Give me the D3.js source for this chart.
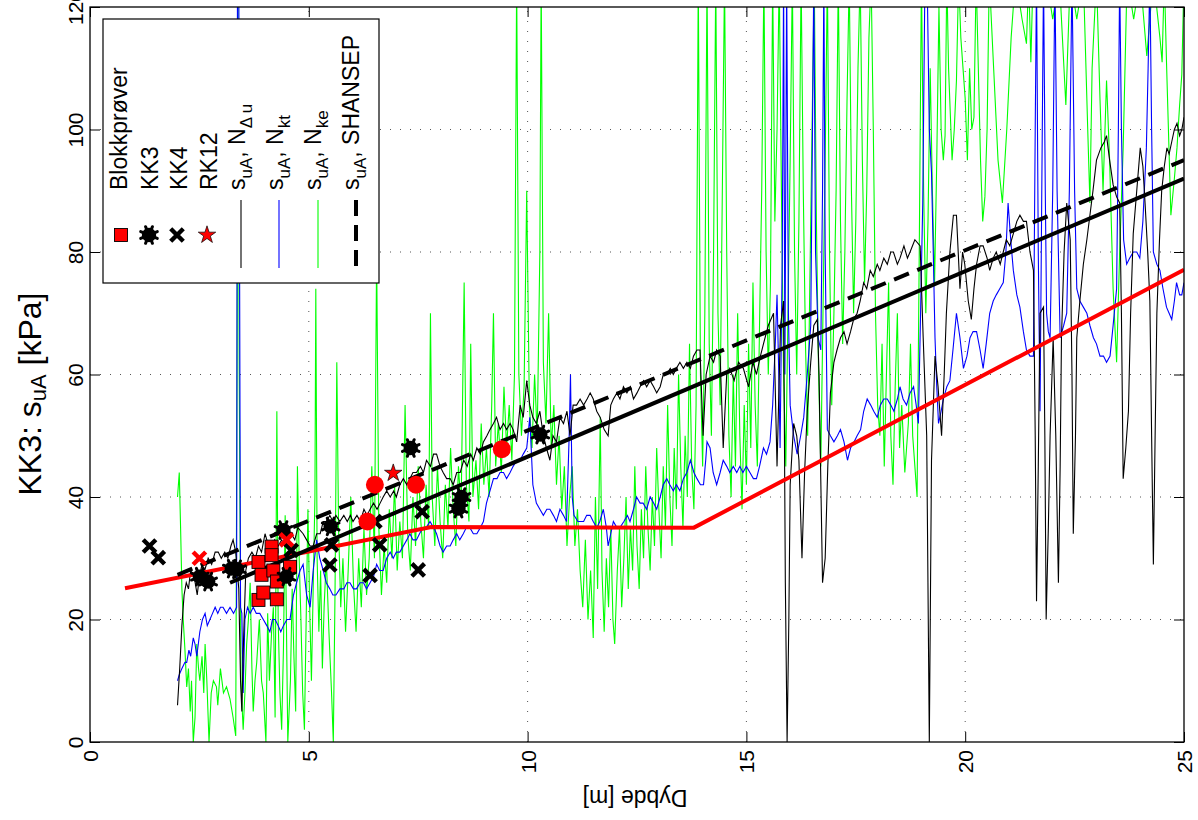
<!DOCTYPE html>
<html><head><meta charset="utf-8">
<script src="https://cdn.jsdelivr.net/npm/d3@7"></script>
<style>
body{margin:0;background:#fff;}
svg{display:block;}
text{font-family:"Liberation Sans",Arial,Helvetica,sans-serif;fill:#000;}
</style>
</head><body>
<svg id="chart" width="1198" height="820"></svg>
<script>
// ---------- data ----------
const xTicks = [0, 5, 10, 15, 20, 25];
const yTicks = [0, 20, 40, 60, 80, 100, 120];

// markers [depth m, suA kPa]
const blokkprover = [[3.85,23.2],[3.96,24.4],[4.27,23.3],[3.85,29.4],[3.92,27.3],[4.15,31.9],[4.15,30.5],[4.19,28.0],[4.27,26.2],[4.57,28.6]];
const kk3 = [[2.51,27.0],[2.70,26.2],[3.24,28.3],[3.36,28.2],[4.42,34.6],[4.49,27.0],[5.50,35.2],[7.33,48.0],[8.49,40.0],[8.42,38.1],[10.29,50.2]];
const kk4 = [[1.36,32.0],[1.56,30.1],[4.60,31.3],[5.48,28.9],[5.52,32.2],[6.51,36.0],[6.62,32.2],[6.40,27.2],[7.59,37.6],[7.50,28.1]];
const rk12 = [[6.93,43.9]];
const redCircles = [[6.34,36.0],[6.51,42.0],[7.45,42.0],[9.41,47.8]];
const redCrosses = [[2.50,30.0],[4.49,33.0]];

// design lines
const redLine = [[0.8,25.1],[7.8,35.1],[13.8,35.0],[25,77.1]];
const solidLine = [[3.2,26.0],[25,92.0]];
const shansepLine = [[2.0,27.3],[25,95.0]];

// CPT-derived profiles
const suNdu = [[2.00,6],[2.05,12],[2.10,19],[2.15,24],[2.20,26],[2.25,25],[2.30,28],[2.38,27],[2.45,24],[2.50,27],[2.56,29],[2.62,28],[2.70,30],[2.78,29],[2.86,31],[2.93,31],[3.00,30],[3.08,31],[3.15,30],[3.22,32],[3.27,33],[3.33,31],[3.40,25],[3.44,10],[3.47,5],[3.51,17],[3.56,28],[3.62,30],[3.70,31],[3.78,30],[3.85,32],[3.92,31],[4.00,34],[4.08,32],[4.15,31],[4.22,33],[4.30,32],[4.38,33],[4.45,32],[4.52,33],[4.60,34],[4.68,33],[4.75,35],[4.87,34],[4.95,33],[5.03,32],[5.10,32],[5.18,34],[5.26,34],[5.33,36],[5.40,36],[5.48,37],[5.55,36],[5.62,37],[5.71,36],[5.80,37],[5.88,36],[5.95,37],[6.01,36],[6.10,37],[6.18,36],[6.26,38],[6.33,37],[6.40,38],[6.48,39],[6.56,38],[6.63,39],[6.70,40],[6.78,41],[6.86,40],[6.94,41],[7.00,40],[7.08,42],[7.16,43],[7.24,42],[7.31,43],[7.38,44],[7.46,44],[7.55,45],[7.62,44],[7.69,46],[7.78,45],[7.85,47],[7.92,47],[8.00,45],[8.07,44],[8.15,43],[8.23,43],[8.30,42],[8.38,44],[8.46,44],[8.54,46],[8.62,45],[8.70,47],[8.76,46],[8.84,48],[8.92,47],[8.99,49],[9.07,50],[9.14,51],[9.22,52],[9.29,53],[9.37,51],[9.45,52],[9.52,51],[9.60,52],[9.67,51],[9.75,49],[9.83,55],[9.90,53],[9.98,59],[10.05,55],[10.12,53],[10.20,52],[10.28,54],[10.36,50],[10.43,48],[10.51,46],[10.58,50],[10.66,49],[10.74,53],[10.82,52],[10.90,54],[10.97,50],[11.04,55],[11.12,55],[11.20,56],[11.28,55],[11.36,56],[11.43,57],[11.50,56],[11.58,54],[11.66,53],[11.75,51],[11.84,50],[11.90,55],[11.96,56],[12.04,57],[12.11,56],[12.19,58],[12.27,57],[12.35,58],[12.42,56],[12.50,57],[12.57,58],[12.65,59],[12.72,58],[12.80,59],[12.88,58],[12.95,57],[13.03,58],[13.10,60],[13.18,60],[13.26,61],[13.33,60],[13.40,61],[13.48,62],[13.56,61],[13.64,62],[13.72,61],[13.79,63],[13.87,64],[13.94,64],[14.01,50],[14.08,60],[14.17,63],[14.25,62],[14.32,64],[14.40,63],[14.47,48],[14.55,60],[14.62,61],[14.72,59],[14.82,62],[14.93,61],[15.05,58],[15.15,62],[15.23,60],[15.32,63],[15.39,65],[15.50,68],[15.62,70],[15.70,45],[15.78,68],[15.85,72],[15.89,26],[15.93,0],[15.97,20],[16.00,42],[16.08,52],[16.15,50],[16.20,46],[16.27,30],[16.33,44],[16.39,54],[16.47,62],[16.54,68],[16.62,69],[16.66,60],[16.69,47],[16.74,26],[16.80,30],[16.86,45],[16.92,57],[17.00,62],[17.07,64],[17.15,66],[17.23,67],[17.30,65],[17.38,67],[17.45,69],[17.53,70],[17.60,72],[17.68,75],[17.75,74],[17.83,77],[17.90,76],[17.99,78],[18.05,77],[18.14,79],[18.22,78],[18.30,80],[18.36,80],[18.45,78],[18.51,79],[18.60,81],[18.68,79],[18.74,80],[18.85,82],[18.97,81],[19.04,66],[19.12,50],[19.18,0],[19.23,46],[19.31,63],[19.38,58],[19.46,50],[19.52,60],[19.57,70],[19.65,80],[19.73,86],[19.80,86],[19.88,74],[19.94,80],[19.99,78],[20.07,72],[20.14,69],[20.20,74],[20.26,78],[20.34,81],[20.41,81],[20.50,79],[20.56,77],[20.64,79],[20.71,80],[20.80,78],[20.87,80],[20.94,82],[21.02,81],[21.10,83],[21.18,85],[21.25,86],[21.33,85],[21.40,85],[21.48,80],[21.56,77],[21.60,50],[21.63,23],[21.67,45],[21.71,70],[21.79,71],[21.82,50],[21.85,20],[21.90,35],[21.94,50],[22.01,66],[22.07,50],[22.13,26],[22.17,45],[22.20,66],[22.26,80],[22.32,88],[22.40,82],[22.44,60],[22.47,34],[22.52,50],[22.55,66],[22.62,72],[22.70,78],[22.78,82],[22.85,86],[22.92,90],[23.00,95],[23.10,97],[23.18,98],[23.23,99],[23.30,95],[23.38,91],[23.46,89],[23.53,88],[23.57,70],[23.61,43],[23.67,48],[23.73,54],[23.78,70],[23.84,83],[23.92,90],[24.00,97],[24.06,94],[24.11,88],[24.17,80],[24.22,72],[24.26,50],[24.30,29],[24.34,50],[24.38,70],[24.44,82],[24.49,90],[24.55,94],[24.61,97],[24.66,96],[24.72,98],[24.78,100],[24.84,101],[24.90,99],[24.95,100],[25.00,102]];

const suNkt = [[2.00,10],[2.04,11],[2.10,12],[2.17,13],[2.21,13],[2.26,15],[2.30,14],[2.36,17],[2.40,16],[2.44,14],[2.51,18],[2.57,20],[2.63,21],[2.68,19],[2.74,20],[2.80,21],[2.86,22],[2.92,21],[2.98,22],[3.04,22],[3.12,21],[3.20,22],[3.28,21],[3.35,22],[3.37,125],[3.40,125],[3.44,22],[3.47,21],[3.50,8],[3.54,20],[3.60,22],[3.66,21],[3.73,22],[3.80,21],[3.88,21],[3.96,20],[4.04,19],[4.11,18],[4.17,20],[4.23,20],[4.30,19],[4.36,18],[4.42,19],[4.50,20],[4.57,20],[4.65,24],[4.72,26],[4.80,28],[4.87,29],[4.95,24],[5.03,22],[5.10,28],[5.18,33],[5.25,30],[5.33,28],[5.40,26],[5.48,25],[5.55,24],[5.62,24],[5.71,25],[5.80,25],[5.87,26],[5.94,26],[6.02,25],[6.09,25],[6.17,26],[6.25,26],[6.32,25],[6.40,26],[6.48,27],[6.55,29],[6.62,28],[6.70,28],[6.78,30],[6.86,31],[6.93,30],[7.00,31],[7.08,31],[7.16,32],[7.24,33],[7.31,34],[7.38,33],[7.46,33],[7.53,34],[7.61,35],[7.68,35],[7.77,36],[7.85,35],[7.92,34],[8.00,32],[8.07,31],[8.15,32],[8.23,32],[8.30,33],[8.38,34],[8.45,33],[8.53,34],[8.60,35],[8.68,35],[8.76,34],[8.84,34],[8.92,35],[8.99,36],[9.06,39],[9.14,41],[9.22,43],[9.30,43],[9.37,44],[9.45,44],[9.52,43],[9.60,44],[9.67,45],[9.75,46],[9.83,46],[9.90,47],[9.98,48],[10.05,53],[10.12,42],[10.20,39],[10.28,38],[10.36,37],[10.44,38],[10.51,38],[10.59,37],[10.66,36],[10.74,38],[10.82,37],[10.89,36],[10.95,50],[10.98,60],[11.02,40],[11.06,37],[11.15,36],[11.28,36],[11.35,37],[11.43,37],[11.50,36],[11.58,35],[11.65,36],[11.73,38],[11.80,35],[11.84,32],[11.90,34],[11.96,36],[12.04,35],[12.11,35],[12.20,36],[12.28,37],[12.34,36],[12.42,38],[12.49,40],[12.57,39],[12.64,39],[12.72,38],[12.80,40],[12.88,39],[12.95,38],[13.03,40],[13.10,42],[13.18,43],[13.25,42],[13.33,41],[13.40,42],[13.48,41],[13.56,43],[13.64,44],[13.72,46],[13.80,44],[13.87,43],[13.95,42],[14.02,42],[14.07,46],[14.10,49],[14.17,48],[14.24,44],[14.32,42],[14.40,44],[14.47,46],[14.55,45],[14.62,44],[14.70,45],[14.78,44],[14.85,45],[14.92,44],[15.00,45],[15.08,44],[15.16,43],[15.23,43],[15.30,45],[15.39,48],[15.46,47],[15.54,49],[15.60,55],[15.66,65],[15.70,73],[15.74,60],[15.77,48],[15.82,80],[15.85,125],[15.88,60],[15.92,125],[15.96,70],[16.00,55],[16.08,50],[16.16,47],[16.24,50],[16.31,53],[16.39,60],[16.47,68],[16.51,100],[16.54,125],[16.58,80],[16.64,66],[16.70,64],[16.74,90],[16.77,125],[16.80,80],[16.85,51],[16.92,50],[17.00,49],[17.08,50],[17.15,51],[17.23,49],[17.31,46],[17.38,48],[17.46,49],[17.53,50],[17.61,51],[17.68,54],[17.76,56],[17.84,55],[17.91,54],[17.99,53],[18.06,55],[18.14,56],[18.22,56],[18.30,55],[18.37,54],[18.45,56],[18.51,58],[18.58,56],[18.66,55],[18.74,57],[18.82,58],[18.88,55],[18.93,52],[18.98,70],[19.03,88],[19.08,125],[19.13,125],[19.18,100],[19.23,93],[19.27,80],[19.31,66],[19.35,58],[19.39,52],[19.45,54],[19.50,56],[19.58,58],[19.65,59],[19.72,64],[19.80,70],[19.88,66],[19.96,61],[20.04,63],[20.11,66],[20.18,67],[20.26,67],[20.34,64],[20.41,61],[20.48,65],[20.56,70],[20.64,72],[20.71,73],[20.79,74],[20.87,75],[20.93,80],[20.98,88],[21.04,82],[21.10,77],[21.18,73],[21.25,71],[21.33,67],[21.40,64],[21.48,63],[21.56,63],[21.60,100],[21.63,125],[21.67,80],[21.71,54],[21.75,90],[21.79,125],[21.83,90],[21.86,70],[21.90,67],[21.94,66],[22.00,90],[22.05,125],[22.10,90],[22.17,66],[22.25,68],[22.32,70],[22.38,90],[22.44,125],[22.50,90],[22.55,74],[22.62,72],[22.70,71],[22.78,70],[22.85,68],[22.93,66],[23.00,65],[23.08,63],[23.16,63],[23.23,62],[23.31,63],[23.38,68],[23.46,74],[23.50,100],[23.53,125],[23.57,100],[23.62,82],[23.69,78],[23.76,79],[23.84,80],[23.92,80],[23.99,79],[24.06,85],[24.14,97],[24.18,110],[24.22,125],[24.26,100],[24.30,80],[24.38,78],[24.45,77],[24.52,74],[24.60,71],[24.66,70],[24.72,69],[24.78,72],[24.83,75],[24.90,73],[24.95,73],[25.00,75]];

const suNke = [[2.00,40],[2.04,44],[2.07,35],[2.10,25],[2.13,20],[2.17,15],[2.21,9],[2.25,12],[2.29,5],[2.32,10],[2.36,0],[2.40,4],[2.44,16],[2.48,12],[2.51,10],[2.56,14],[2.60,8],[2.63,16],[2.67,10],[2.72,0],[2.77,8],[2.82,10],[2.89,9],[2.92,6],[2.98,12],[3.05,8],[3.12,9],[3.20,7],[3.27,4],[3.33,1],[3.36,60],[3.38,125],[3.41,60],[3.45,10],[3.50,2],[3.54,8],[3.58,16],[3.62,20],[3.66,26],[3.70,12],[3.73,5],[3.77,10],[3.81,13],[3.87,20],[3.92,10],[3.96,8],[4.02,0],[4.06,21],[4.10,10],[4.15,18],[4.19,22],[4.23,4],[4.27,54],[4.30,20],[4.34,8],[4.38,2],[4.42,15],[4.46,37],[4.52,0],[4.58,10],[4.62,25],[4.66,14],[4.70,5],[4.74,45],[4.78,30],[4.82,20],[4.86,8],[4.90,2],[4.94,20],[4.98,38],[5.02,22],[5.06,10],[5.10,25],[5.14,40],[5.16,74],[5.19,30],[5.23,18],[5.27,28],[5.31,12],[5.35,22],[5.40,30],[5.46,18],[5.52,8],[5.56,0],[5.60,25],[5.64,62],[5.68,35],[5.73,22],[5.78,30],[5.84,18],[5.90,28],[5.96,40],[6.02,26],[6.08,18],[6.14,30],[6.20,22],[6.26,35],[6.32,24],[6.38,30],[6.44,45],[6.50,30],[6.55,80],[6.60,35],[6.66,24],[6.72,32],[6.78,26],[6.84,38],[6.90,30],[6.96,42],[7.02,28],[7.08,36],[7.14,30],[7.20,55],[7.26,34],[7.32,28],[7.38,40],[7.44,32],[7.50,45],[7.56,36],[7.62,30],[7.68,42],[7.74,35],[7.78,70],[7.82,40],[7.88,32],[7.94,45],[8.00,36],[8.06,30],[8.12,42],[8.18,35],[8.24,48],[8.30,38],[8.36,32],[8.42,45],[8.48,38],[8.55,75],[8.60,42],[8.66,36],[8.70,65],[8.75,40],[8.82,46],[8.88,38],[8.94,52],[9.00,42],[9.06,48],[9.12,40],[9.18,55],[9.22,70],[9.27,45],[9.33,52],[9.40,44],[9.46,58],[9.52,48],[9.58,55],[9.64,46],[9.70,60],[9.75,125],[9.80,60],[9.86,50],[9.92,58],[9.98,90],[10.04,55],[10.10,48],[10.16,60],[10.22,50],[10.28,80],[10.31,125],[10.36,62],[10.42,52],[10.48,70],[10.54,48],[10.60,55],[10.66,42],[10.72,50],[10.78,38],[10.84,45],[10.90,32],[10.96,40],[11.02,45],[11.08,32],[11.14,38],[11.20,28],[11.26,22],[11.32,33],[11.38,20],[11.44,28],[11.50,17],[11.55,40],[11.60,25],[11.66,53],[11.70,28],[11.75,18],[11.80,30],[11.85,22],[11.90,35],[11.95,20],[11.99,16],[12.05,28],[12.10,35],[12.15,22],[12.20,30],[12.25,40],[12.30,25],[12.35,35],[12.40,28],[12.45,45],[12.50,32],[12.55,25],[12.60,38],[12.65,30],[12.70,45],[12.75,35],[12.80,28],[12.85,40],[12.90,32],[12.95,48],[13.00,38],[13.05,30],[13.10,45],[13.15,35],[13.20,55],[13.25,40],[13.30,32],[13.35,48],[13.40,38],[13.45,60],[13.50,45],[13.55,35],[13.60,50],[13.65,40],[13.70,65],[13.75,45],[13.80,38],[13.85,55],[13.90,125],[13.95,60],[14.00,45],[14.05,70],[14.10,125],[14.15,65],[14.20,50],[14.25,80],[14.30,125],[14.35,70],[14.40,55],[14.45,90],[14.50,125],[14.55,80],[14.60,50],[14.65,40],[14.70,60],[14.75,45],[14.80,70],[14.85,50],[14.90,38],[14.95,55],[15.00,42],[15.05,65],[15.10,48],[15.15,75],[15.20,55],[15.25,45],[15.30,68],[15.35,90],[15.40,125],[15.45,80],[15.50,60],[15.55,75],[15.60,125],[15.65,85],[15.70,100],[15.75,125],[15.80,90],[15.85,60],[15.90,45],[15.95,70],[16.00,95],[16.05,125],[16.10,80],[16.15,60],[16.20,85],[16.25,125],[16.30,90],[16.35,65],[16.40,50],[16.45,75],[16.50,100],[16.55,125],[16.60,85],[16.65,60],[16.70,45],[16.75,70],[16.80,95],[16.85,125],[16.90,80],[16.95,55],[17.00,70],[17.05,90],[17.10,125],[17.15,85],[17.20,65],[17.25,80],[17.30,105],[17.35,125],[17.40,90],[17.45,70],[17.50,85],[17.55,110],[17.60,125],[17.65,95],[17.70,75],[17.75,90],[17.80,115],[17.85,125],[17.90,100],[17.95,70],[18.00,55],[18.05,50],[18.10,65],[18.15,45],[18.20,60],[18.25,75],[18.30,50],[18.35,42],[18.40,58],[18.45,70],[18.50,48],[18.55,55],[18.62,44],[18.70,52],[18.75,65],[18.80,50],[18.85,45],[18.90,40],[18.95,80],[19.00,125],[19.05,90],[19.10,70],[19.15,85],[19.20,110],[19.25,90],[19.30,75],[19.35,95],[19.40,120],[19.45,100],[19.50,95],[19.54,99],[19.58,125],[19.62,110],[19.70,95],[19.75,100],[19.80,108],[19.85,125],[19.90,115],[20.00,105],[20.05,95],[20.10,110],[20.15,100],[20.20,102],[20.25,125],[20.30,110],[20.35,95],[20.40,85],[20.45,89],[20.50,100],[20.55,125],[20.65,110],[20.75,95],[20.85,88],[20.95,100],[21.05,115],[21.15,125],[21.30,118],[21.40,114],[21.45,125],[21.50,111],[21.55,125],[21.70,120],[21.85,125],[22.00,118],[22.15,125],[22.30,104],[22.40,125],[22.55,118],[22.70,125],[22.80,100],[22.85,88],[22.90,110],[23.00,125],[23.08,105],[23.15,90],[23.23,108],[23.30,95],[23.38,74],[23.46,62],[23.53,80],[23.61,97],[23.70,125],[23.85,118],[24.00,125],[24.15,112],[24.30,125],[24.45,115],[24.50,111],[24.55,125],[24.60,111],[24.70,86],[24.78,92],[24.84,97],[24.90,104],[24.95,109],[25.00,125]];

// ---------- layout ----------
const W = 1198, H = 820;
const L = 90, R = 1184, T = 7, B = 742;
const svg = d3.select('#chart');
svg.append('rect').attr('width', W).attr('height', H).attr('fill', '#fff');

const x = d3.scaleLinear().domain([0, 25]).range([L, R]);
const y = d3.scaleLinear().domain([0, 120]).range([B, T]);

svg.append('defs').append('clipPath').attr('id', 'clip')
  .append('rect').attr('x', L).attr('y', T).attr('width', R - L).attr('height', B - T);

// grid
const grid = svg.append('g').attr('stroke', '#555').attr('stroke-width', 1).attr('stroke-dasharray', '1,9');
grid.selectAll('.gx').data(xTicks.slice(1, -1)).enter().append('line')
  .attr('x1', d => x(d)).attr('x2', d => x(d)).attr('y1', B).attr('y2', T);
grid.selectAll('.gy').data(yTicks.slice(1, -1)).enter().append('line')
  .attr('y1', d => y(d)).attr('y2', d => y(d)).attr('x1', L).attr('x2', R);

const plot = svg.append('g').attr('clip-path', 'url(#clip)');
const line = d3.line().x(d => x(d[0])).y(d => y(d[1]));

// marker helpers
function burst(g, cx, cy) {
  g.append('circle').attr('cx', cx).attr('cy', cy).attr('r', 7.2).attr('fill', '#000');
  for (let i = 0; i < 8; i++) {
    const a = i * Math.PI / 4 + Math.PI / 8;
    g.append('line').attr('x1', cx).attr('y1', cy)
      .attr('x2', cx + 9 * Math.cos(a)).attr('y2', cy + 9 * Math.sin(a))
      .attr('stroke', '#000').attr('stroke-width', 3).attr('stroke-linecap', 'round');
  }
}
function cross(g, cx, cy, col) {
  const s = 6.3;
  g.append('path').attr('d', `M${cx - s},${cy - s}L${cx + s},${cy + s}M${cx - s},${cy + s}L${cx + s},${cy - s}`)
    .attr('stroke', col).attr('stroke-width', 4.4).attr('fill', 'none');
}
function square(g, cx, cy) {
  g.append('rect').attr('x', cx - 6.5).attr('y', cy - 6.5).attr('width', 13).attr('height', 13)
    .attr('fill', '#ff0000').attr('stroke', '#000').attr('stroke-width', 0.9);
}
const starPath = d3.symbol().type(d3.symbolStar).size(95);
function star(g, cx, cy) {
  g.append('path').attr('d', starPath()).attr('transform', `translate(${cx},${cy})`)
    .attr('fill', '#ff0000').attr('stroke', '#000').attr('stroke-width', 0.7);
}

// thin profiles
plot.append('path').datum(suNke).attr('d', line).attr('fill', 'none').attr('stroke', '#00ff00').attr('stroke-width', 1.1);
plot.append('path').datum(suNkt).attr('d', line).attr('fill', 'none').attr('stroke', '#0000ff').attr('stroke-width', 1.1);
plot.append('path').datum(suNdu).attr('d', line).attr('fill', 'none').attr('stroke', '#000').attr('stroke-width', 1.1);

// thick lines
plot.append('path').datum(redLine).attr('d', line).attr('fill', 'none').attr('stroke', '#ff0000').attr('stroke-width', 4);
plot.append('path').datum(solidLine).attr('d', line).attr('fill', 'none').attr('stroke', '#000').attr('stroke-width', 4);
plot.append('path').datum(shansepLine).attr('d', line).attr('fill', 'none').attr('stroke', '#000').attr('stroke-width', 4).attr('stroke-dasharray', '16,9');

// markers on top
const mk = plot.append('g');
blokkprover.forEach(d => square(mk, x(d[0]), y(d[1])));
kk3.forEach(d => burst(mk, x(d[0]), y(d[1])));
kk4.forEach(d => cross(mk, x(d[0]), y(d[1]), '#000'));
rk12.forEach(d => star(mk, x(d[0]), y(d[1])));
mk.selectAll('.rc').data(redCircles).enter().append('circle')
  .attr('cx', d => x(d[0])).attr('cy', d => y(d[1])).attr('r', 9).attr('fill', '#ff0000');
redCrosses.forEach(d => cross(mk, x(d[0]), y(d[1]), '#ff0000'));

// axes
const fs = 21;
const xb = svg.append('g').attr('transform', `translate(0,${B})`)
  .call(d3.axisBottom(x).tickValues(xTicks).tickSize(-10).tickFormat(d3.format('d')));
xb.select('.domain').remove();
xb.selectAll('line').attr('stroke', '#000');
xb.selectAll('text').attr('transform', 'rotate(-90)').attr('x', -8).attr('y', 0).attr('dy', null)
  .attr('dominant-baseline', 'central').attr('text-anchor', 'end').attr('font-size', fs).attr('font-family', null);
const xt = svg.append('g').attr('transform', `translate(0,${T})`)
  .call(d3.axisTop(x).tickValues(xTicks).tickSize(-10).tickFormat(''));
xt.select('.domain').remove(); xt.selectAll('line').attr('stroke', '#000');
const yl = svg.append('g').attr('transform', `translate(${L},0)`)
  .call(d3.axisLeft(y).tickValues(yTicks).tickSize(-10).tickFormat(d3.format('d')));
yl.select('.domain').remove(); yl.selectAll('line').attr('stroke', '#000');
yl.selectAll('text').attr('transform', 'rotate(-90)').attr('x', 0).attr('y', -15).attr('dy', null)
  .attr('dominant-baseline', 'central').attr('text-anchor', 'middle').attr('font-size', fs).attr('font-family', null);
const yr = svg.append('g').attr('transform', `translate(${R},0)`)
  .call(d3.axisRight(y).tickValues(yTicks).tickSize(-10).tickFormat(''));
yr.select('.domain').remove(); yr.selectAll('line').attr('stroke', '#000');

svg.append('rect').attr('x', L).attr('y', T).attr('width', R - L).attr('height', B - T)
  .attr('fill', 'none').attr('stroke', '#000').attr('stroke-width', 1.3);

// axis labels
svg.append('text').attr('transform', `translate(${(L + R) / 2 - 2},798) rotate(180)`)
  .attr('text-anchor', 'middle').attr('dominant-baseline', 'central').attr('font-size', 23).text('Dybde [m]');
const ylab = svg.append('text').attr('transform', 'translate(30,394) rotate(-90)')
  .attr('text-anchor', 'middle').attr('dominant-baseline', 'central').attr('font-size', 32);
ylab.append('tspan').text('KK3: s');
ylab.append('tspan').attr('font-size', 22).attr('dy', 8).text('uA');
ylab.append('tspan').attr('dy', -8).text(' [kPa]');

// legend
const lg = svg.append('g');
lg.append('rect').attr('x', 103).attr('y', 19).attr('width', 276).attr('height', 264)
  .attr('fill', '#fff').attr('stroke', '#000').attr('stroke-width', 1.2);
const legText = (bx, parts) => {
  const t = lg.append('text').attr('transform', `translate(${bx},190) rotate(-90)`).attr('font-size', 23);
  parts.forEach(p => {
    const s = t.append('tspan').text(p.t);
    if (p.sub) s.attr('font-size', 17).attr('dy', 7);
    if (p.up) s.attr('dy', -7);
  });
};
legText(127, [{t: 'Blokkprøver'}]);
legText(158, [{t: 'KK3'}]);
legText(187, [{t: 'KK4'}]);
legText(217, [{t: 'RK12'}]);
legText(245, [{t: 's'}, {t: 'uA', sub: 1}, {t: ', N', up: 1}, {t: 'Δ u', sub: 1}]);
legText(283, [{t: 's'}, {t: 'uA', sub: 1}, {t: ', N', up: 1}, {t: 'kt', sub: 1}]);
legText(321, [{t: 's'}, {t: 'uA', sub: 1}, {t: ', N', up: 1}, {t: 'ke', sub: 1}]);
legText(359, [{t: 's'}, {t: 'uA', sub: 1}, {t: ', SHANSEP', up: 1}]);
square(lg, 121, 235);
burst(lg, 149, 235);
cross(lg, 177, 235, '#000');
star(lg, 207, 235);
lg.append('line').attr('x1', 241).attr('x2', 241).attr('y1', 200).attr('y2', 268).attr('stroke', '#000').attr('stroke-width', 1.1);
lg.append('line').attr('x1', 279).attr('x2', 279).attr('y1', 200).attr('y2', 268).attr('stroke', '#0000ff').attr('stroke-width', 1.1);
lg.append('line').attr('x1', 318).attr('x2', 318).attr('y1', 200).attr('y2', 268).attr('stroke', '#00ff00').attr('stroke-width', 1.1);
lg.append('line').attr('x1', 356).attr('x2', 356).attr('y1', 200).attr('y2', 268).attr('stroke', '#000').attr('stroke-width', 4).attr('stroke-dasharray', '16,9');
</script>
</body></html>
